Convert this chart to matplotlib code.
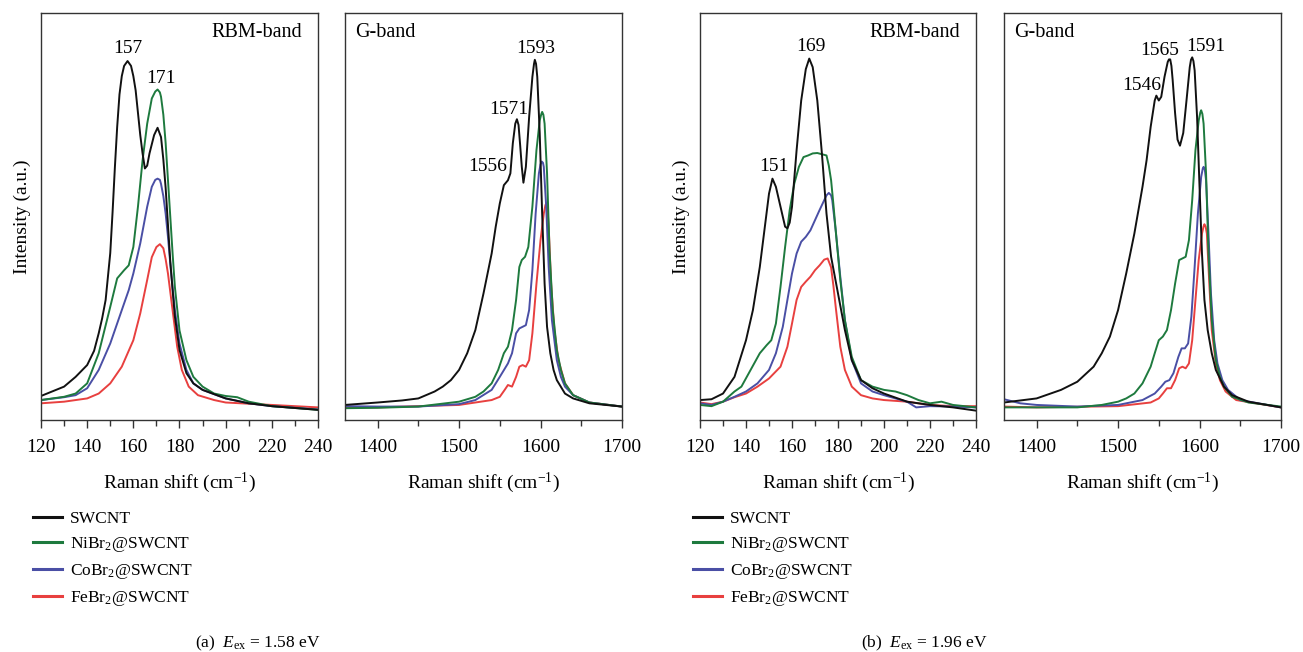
import matplotlib
matplotlib.use("Agg")
import matplotlib.pyplot as plt
from matplotlib.ticker import MultipleLocator
from matplotlib.lines import Line2D

plt.rcParams['font.family'] = ['Liberation Serif', 'DejaVu Serif']
plt.rcParams['mathtext.fontset'] = 'custom'
plt.rcParams['mathtext.rm'] = 'Liberation Serif'
plt.rcParams['mathtext.it'] = 'Liberation Serif:italic'

# ---------------- data (normalised intensity, 0 = axis bottom, 1 = axis top) ----------------
series_labels = ['SWCNT', 'NiBr$_2$@SWCNT', 'CoBr$_2$@SWCNT', 'FeBr$_2$@SWCNT']
series_colors = ['#111111', '#1e7a3e', '#4a4fa5', '#e8403f']

# (a) 1.58 eV, RBM band
a_rbm_swcnt_x = [120, 130, 135, 140, 143, 145, 146.5, 148, 150, 151, 152, 153, 154, 155, 156, 157.5, 159, 160, 161, 163, 164, 165, 166, 167, 169, 170.5, 172, 173, 174, 175, 176, 177, 178, 180, 183, 186, 190, 200, 210, 220, 240]
a_rbm_swcnt_y = [0.059, 0.082, 0.106, 0.135, 0.17, 0.213, 0.25, 0.295, 0.41, 0.51, 0.62, 0.72, 0.80, 0.845, 0.87, 0.882, 0.87, 0.845, 0.81, 0.70, 0.655, 0.618, 0.625, 0.655, 0.70, 0.718, 0.695, 0.64, 0.57, 0.48, 0.39, 0.32, 0.254, 0.172, 0.115, 0.09, 0.074, 0.053, 0.041, 0.034, 0.025]
a_rbm_ni_x = [120, 130, 135, 140, 145, 150, 153, 156, 158, 160, 162, 164, 166, 168, 169.5, 170.5, 171.5, 172, 173, 174, 175, 176, 177, 178, 180, 183, 186, 190, 195, 200, 205, 210, 220, 240]
a_rbm_ni_y = [0.049, 0.057, 0.065, 0.09, 0.164, 0.278, 0.348, 0.368, 0.38, 0.425, 0.524, 0.638, 0.728, 0.79, 0.807, 0.812, 0.805, 0.794, 0.75, 0.68, 0.59, 0.50, 0.41, 0.327, 0.22, 0.147, 0.106, 0.082, 0.065, 0.059, 0.056, 0.045, 0.034, 0.025]
a_rbm_co_x = [120, 130, 135, 140, 145, 150, 155, 158, 160, 163, 166, 168, 169.5, 170.5, 171.5, 172, 173, 174, 175, 176, 177, 178, 180, 183, 186, 190, 200, 210, 220, 240]
a_rbm_co_y = [0.049, 0.056, 0.061, 0.078, 0.123, 0.188, 0.27, 0.319, 0.36, 0.434, 0.524, 0.573, 0.59, 0.593, 0.59, 0.58, 0.55, 0.507, 0.45, 0.385, 0.325, 0.27, 0.188, 0.123, 0.09, 0.074, 0.053, 0.041, 0.034, 0.026]
a_rbm_fe_x = [120, 130, 140, 145, 150, 155, 160, 163, 166, 168, 170, 171.5, 173, 174, 175, 176, 177, 179, 181, 184, 188, 195, 200, 220, 240]
a_rbm_fe_y = [0.041, 0.045, 0.053, 0.065, 0.09, 0.131, 0.196, 0.262, 0.344, 0.40, 0.425, 0.432, 0.422, 0.395, 0.36, 0.315, 0.27, 0.18, 0.123, 0.082, 0.061, 0.049, 0.043, 0.037, 0.031]

# (a) 1.58 eV, G band
a_g_swcnt_x = [1360, 1400, 1430, 1450, 1470, 1480, 1490, 1500, 1510, 1520, 1530, 1540, 1545, 1550, 1555, 1560, 1563, 1566, 1569, 1571, 1573, 1575, 1577, 1579, 1582, 1586, 1590, 1592, 1593, 1594.5, 1596, 1599, 1602, 1605, 1608, 1612, 1616, 1620, 1630, 1640, 1660, 1700]
a_g_swcnt_y = [0.037, 0.043, 0.048, 0.053, 0.07, 0.082, 0.098, 0.123, 0.164, 0.221, 0.311, 0.409, 0.475, 0.532, 0.577, 0.589, 0.606, 0.68, 0.728, 0.739, 0.725, 0.675, 0.622, 0.583, 0.622, 0.744, 0.843, 0.875, 0.885, 0.875, 0.843, 0.705, 0.507, 0.335, 0.229, 0.164, 0.123, 0.098, 0.065, 0.053, 0.041, 0.033]
a_g_ni_x = [1360, 1400, 1450, 1500, 1520, 1530, 1540, 1548, 1555, 1560, 1565, 1570, 1574, 1577, 1581, 1585, 1590, 1595, 1599, 1601, 1602, 1603.5, 1605, 1608, 1611, 1615, 1620, 1625, 1630, 1640, 1660, 1700]
a_g_ni_y = [0.029, 0.030, 0.033, 0.045, 0.057, 0.07, 0.09, 0.123, 0.164, 0.18, 0.221, 0.295, 0.376, 0.393, 0.401, 0.425, 0.524, 0.663, 0.736, 0.752, 0.757, 0.75, 0.728, 0.606, 0.417, 0.27, 0.172, 0.123, 0.09, 0.061, 0.043, 0.033]
a_g_co_x = [1360, 1400, 1450, 1500, 1520, 1540, 1550, 1560, 1565, 1570, 1574, 1578, 1582, 1586, 1590, 1594, 1598, 1600, 1601.5, 1603, 1604, 1607, 1610, 1614, 1620, 1625, 1630, 1640, 1660, 1700]
a_g_co_y = [0.034, 0.033, 0.033, 0.039, 0.049, 0.074, 0.106, 0.139, 0.164, 0.213, 0.225, 0.229, 0.233, 0.27, 0.368, 0.507, 0.606, 0.628, 0.635, 0.632, 0.622, 0.524, 0.376, 0.245, 0.147, 0.106, 0.082, 0.061, 0.043, 0.033]
a_g_fe_x = [1360, 1400, 1500, 1540, 1550, 1556, 1560, 1565, 1570, 1574, 1578, 1582, 1586, 1590, 1595, 1600, 1604, 1606, 1607, 1608.5, 1610, 1613, 1617, 1622, 1630, 1640, 1660, 1700]
a_g_fe_y = [0.031, 0.031, 0.037, 0.049, 0.057, 0.074, 0.086, 0.082, 0.106, 0.131, 0.135, 0.131, 0.147, 0.213, 0.335, 0.442, 0.507, 0.528, 0.532, 0.52, 0.475, 0.335, 0.221, 0.147, 0.09, 0.061, 0.043, 0.033]

# (b) 1.96 eV, RBM band
b_rbm_swcnt_x = [120, 125, 130, 135, 140, 143, 146, 148, 150, 151.5, 153, 155, 157, 158, 159, 160, 162, 164, 166, 167.5, 169, 171, 173, 175, 177, 180, 183, 186, 190, 195, 200, 210, 220, 230, 240]
b_rbm_swcnt_y = [0.049, 0.051, 0.065, 0.106, 0.196, 0.27, 0.376, 0.466, 0.556, 0.593, 0.573, 0.524, 0.475, 0.471, 0.485, 0.524, 0.663, 0.785, 0.862, 0.888, 0.867, 0.785, 0.655, 0.507, 0.401, 0.311, 0.221, 0.147, 0.098, 0.078, 0.065, 0.045, 0.037, 0.031, 0.023]
b_rbm_ni_x = [120, 125, 130, 135, 138, 142, 146, 149, 151, 153, 155, 157, 159, 161, 163, 165, 167, 169, 171, 173, 175, 176, 177, 178, 179, 181, 183, 186, 190, 195, 200, 205, 210, 215, 220, 225, 230, 240]
b_rbm_ni_y = [0.037, 0.034, 0.045, 0.07, 0.082, 0.123, 0.164, 0.184, 0.196, 0.237, 0.327, 0.425, 0.516, 0.581, 0.622, 0.646, 0.65, 0.655, 0.656, 0.653, 0.65, 0.625, 0.589, 0.53, 0.466, 0.344, 0.245, 0.155, 0.098, 0.082, 0.074, 0.07, 0.061, 0.049, 0.041, 0.045, 0.037, 0.031]
b_rbm_co_x = [120, 125, 130, 135, 140, 145, 150, 153, 156, 158, 160, 162, 164, 166, 168, 170, 172, 174, 175, 176, 177, 177.5, 179, 181, 183, 186, 190, 195, 200, 205, 210, 214, 220, 230, 240]
b_rbm_co_y = [0.041, 0.037, 0.045, 0.057, 0.07, 0.09, 0.123, 0.164, 0.229, 0.295, 0.36, 0.409, 0.438, 0.45, 0.466, 0.491, 0.516, 0.54, 0.552, 0.558, 0.552, 0.54, 0.466, 0.352, 0.245, 0.147, 0.09, 0.07, 0.061, 0.053, 0.045, 0.031, 0.034, 0.033, 0.031]
b_rbm_fe_x = [120, 125, 130, 135, 140, 145, 150, 155, 158, 160, 162, 164, 166, 168, 170, 172, 174, 175.5, 177, 178, 179, 181, 183, 186, 190, 195, 200, 210, 220, 230, 240]
b_rbm_fe_y = [0.043, 0.039, 0.045, 0.056, 0.065, 0.082, 0.102, 0.131, 0.18, 0.237, 0.295, 0.327, 0.34, 0.352, 0.368, 0.38, 0.394, 0.397, 0.375, 0.33, 0.278, 0.18, 0.123, 0.082, 0.061, 0.053, 0.049, 0.045, 0.037, 0.034, 0.034]

# (b) 1.96 eV, G band
b_g_swcnt_x = [1360, 1400, 1430, 1450, 1470, 1480, 1490, 1500, 1510, 1520, 1530, 1535, 1540, 1545, 1547, 1550, 1553, 1557, 1561, 1562.5, 1564, 1565.5, 1567, 1570, 1573, 1576, 1580, 1584, 1588, 1589.5, 1591, 1592.5, 1594, 1597, 1600, 1603, 1606, 1610, 1615, 1620, 1630, 1640, 1660, 1700]
b_g_swcnt_y = [0.043, 0.053, 0.074, 0.094, 0.131, 0.164, 0.205, 0.27, 0.36, 0.458, 0.573, 0.638, 0.72, 0.785, 0.797, 0.785, 0.794, 0.843, 0.88, 0.886, 0.886, 0.87, 0.836, 0.754, 0.689, 0.674, 0.705, 0.785, 0.867, 0.885, 0.891, 0.882, 0.859, 0.744, 0.573, 0.409, 0.295, 0.221, 0.164, 0.123, 0.082, 0.061, 0.045, 0.031]
b_g_ni_x = [1360, 1400, 1450, 1480, 1500, 1510, 1520, 1530, 1540, 1545, 1550, 1555, 1560, 1565, 1570, 1575, 1579, 1583, 1587, 1591, 1595, 1599, 1601, 1602, 1603.5, 1605, 1608, 1611, 1615, 1620, 1625, 1630, 1640, 1660, 1700]
b_g_ni_y = [0.031, 0.031, 0.031, 0.037, 0.045, 0.053, 0.065, 0.09, 0.131, 0.164, 0.196, 0.205, 0.221, 0.27, 0.335, 0.393, 0.397, 0.401, 0.442, 0.54, 0.663, 0.736, 0.756, 0.761, 0.752, 0.728, 0.606, 0.409, 0.245, 0.147, 0.106, 0.082, 0.057, 0.043, 0.033]
b_g_co_x = [1360, 1380, 1400, 1450, 1500, 1530, 1545, 1553, 1558, 1563, 1568, 1574, 1578, 1582, 1586, 1590, 1594, 1598, 1602, 1604, 1605, 1606.5, 1608, 1611, 1614, 1618, 1622, 1628, 1635, 1650, 1700]
b_g_co_y = [0.051, 0.041, 0.037, 0.033, 0.037, 0.049, 0.065, 0.082, 0.094, 0.098, 0.115, 0.155, 0.176, 0.176, 0.188, 0.254, 0.376, 0.507, 0.597, 0.618, 0.622, 0.615, 0.589, 0.458, 0.311, 0.196, 0.139, 0.098, 0.074, 0.049, 0.031]
b_g_fe_x = [1360, 1400, 1500, 1540, 1550, 1555, 1560, 1565, 1570, 1575, 1579, 1583, 1587, 1591, 1595, 1599, 1603, 1605, 1606, 1607.5, 1609, 1612, 1615, 1620, 1625, 1632, 1645, 1700]
b_g_fe_y = [0.033, 0.031, 0.034, 0.043, 0.053, 0.065, 0.078, 0.078, 0.098, 0.127, 0.131, 0.127, 0.139, 0.196, 0.295, 0.393, 0.458, 0.476, 0.481, 0.475, 0.458, 0.335, 0.221, 0.139, 0.098, 0.07, 0.049, 0.031]

# peak annotations: (text, x, y)
a_rbm_peaks = [('157', 157.5, 0.914), ('171', 171.8, 0.838)]
a_g_peaks = [('1593', 1594.6, 0.914), ('1571', 1561.4, 0.764), ('1556', 1534.7, 0.622)]
b_rbm_peaks = [('169', 168.3, 0.917), ('151', 152.2, 0.624)]
b_g_peaks = [('1546', 1529.0, 0.823), ('1565', 1551.5, 0.907), ('1591', 1607.6, 0.917)]

# ---------------- figure ----------------
W, H = 1303, 652
fig = plt.figure(figsize=(W / 100, H / 100), dpi=100)


def add_ax(l, r, t=13, b=420):
    return fig.add_axes([l / W, 1 - b / H, (r - l) / W, (b - t) / H])


def style(ax, xlim, major, minor, band, band_right, ylabel):
    ax.set_xlim(*xlim)
    ax.set_ylim(0, 1)
    ax.set_yticks([])
    ax.xaxis.set_major_locator(MultipleLocator(major))
    ax.xaxis.set_minor_locator(MultipleLocator(minor))
    ax.tick_params(axis='x', which='major', direction='out', length=6, width=1, labelsize=14, pad=8, color='#333333')
    ax.tick_params(axis='x', which='minor', direction='out', length=4, width=1, color='#333333')
    for s in ax.spines.values():
        s.set_color('#333333')
        s.set_linewidth(1.0)
    ax.set_xlabel('Raman shift (cm$^{-1}$)', fontsize=14, labelpad=10)
    if ylabel:
        ax.set_ylabel('Intensity (a.u.)', fontsize=14)
        ax.yaxis.set_label_coords(-0.035, 0.5)
    if band_right:
        ax.text(0.942, 0.953, band, transform=ax.transAxes, ha='right', va='center', fontsize=14.5)
    else:
        ax.text(0.036, 0.953, band, transform=ax.transAxes, ha='left', va='center', fontsize=14.5)


def draw(ax, xs, ys, peaks):
    order = [3, 2, 1, 0]
    for i in order:
        ax.plot(xs[i], ys[i], color=series_colors[i], lw=1.4, solid_joinstyle='round')
    for t, px, py in peaks:
        ax.text(px, py, t, ha='center', va='center', fontsize=14)


ax1 = add_ax(41, 318)
draw(ax1, [a_rbm_swcnt_x, a_rbm_ni_x, a_rbm_co_x, a_rbm_fe_x],
     [a_rbm_swcnt_y, a_rbm_ni_y, a_rbm_co_y, a_rbm_fe_y], a_rbm_peaks)
style(ax1, (120, 240), 20, 10, 'RBM-band', True, True)

ax2 = add_ax(345, 622)
draw(ax2, [a_g_swcnt_x, a_g_ni_x, a_g_co_x, a_g_fe_x],
     [a_g_swcnt_y, a_g_ni_y, a_g_co_y, a_g_fe_y], a_g_peaks)
style(ax2, (1360, 1700), 100, 50, 'G-band', False, False)

ax3 = add_ax(700, 976)
draw(ax3, [b_rbm_swcnt_x, b_rbm_ni_x, b_rbm_co_x, b_rbm_fe_x],
     [b_rbm_swcnt_y, b_rbm_ni_y, b_rbm_co_y, b_rbm_fe_y], b_rbm_peaks)
style(ax3, (120, 240), 20, 10, 'RBM-band', True, True)

ax4 = add_ax(1004, 1281)
draw(ax4, [b_g_swcnt_x, b_g_ni_x, b_g_co_x, b_g_fe_x],
     [b_g_swcnt_y, b_g_ni_y, b_g_co_y, b_g_fe_y], b_g_peaks)
style(ax4, (1360, 1700), 100, 50, 'G-band', False, False)

# legends
handles = [Line2D([], [], color=c, lw=2.2) for c in series_colors]
for lx in (33, 693):
    fig.legend(handles, series_labels, loc='upper left', bbox_to_anchor=(lx / W, 1 - 511 / H),
               frameon=False, fontsize=12.5, handlelength=1.65, handletextpad=0.5,
               labelspacing=0.45, borderpad=0, borderaxespad=0)

# captions
fig.text(258 / W, 1 - 643 / H, '(a)  $E_{\\mathrm{ex}}$ = 1.58 eV', ha='center', va='center', fontsize=12.5)
fig.text(924 / W, 1 - 643 / H, '(b)  $E_{\\mathrm{ex}}$ = 1.96 eV', ha='center', va='center', fontsize=12.5)

fig.savefig('out.png', dpi=100)
